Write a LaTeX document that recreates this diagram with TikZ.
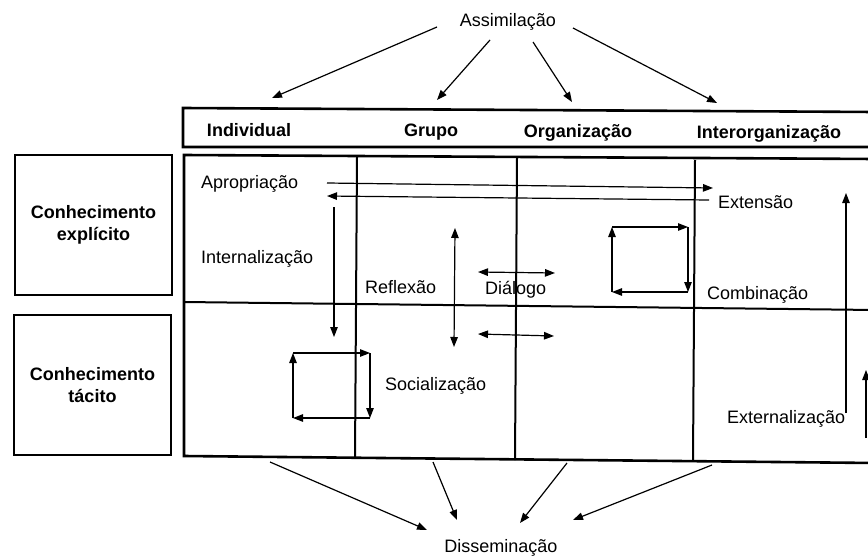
\documentclass[tikz,border=0pt]{standalone}
\usepackage{fontspec}
\setmainfont{Liberation Sans}
\usetikzlibrary{arrows.meta}
\begin{document}
\begin{tikzpicture}[x=1pt,y=-1pt,
  tip/.tip={Triangle[length=10pt,width=7.5pt]},
  arr/.style={line width=1.2pt,-tip},
  darr/.style={line width=1.2pt,tip-tip},
  frame/.style={line width=2.6pt,line cap=rect},
  inner/.style={line width=2pt},
  lbl/.style={font=\fontsize{18}{22}\selectfont, inner sep=0pt, anchor=base west},
  hdr/.style={font=\fontsize{18}{22}\selectfont\bfseries, inner sep=0pt, anchor=base},
  side/.style={draw, line width=2.6pt, font=\fontsize{18}{22}\selectfont\bfseries,
    align=center, inner sep=0pt, minimum width=157pt, minimum height=140pt}
]
\useasboundingbox (0,0) rectangle (868,557);

% header strip with the four levels
\draw[frame] (875,112) -- (183,108) -- (183,147) -- (875,147);
\node[hdr] (ind) at (249,136) {Individual};
\node[hdr] (gru) at (431,136) {Grupo};
\node[hdr] (org) at (578,137) {Organização};
\node[hdr] (inter) at (769,138) {Interorganização};

% main grid
\draw[frame] (875,159) -- (184,155) -- (184,456) -- (875,463);
\draw[inner] (184,302) -- (875,310);
\draw[inner] (357,157) -- (355,458);
\draw[inner] (517,158) -- (515,460);
\draw[inner] (695,160) -- (693,461);

% row headings
\node[side] (expl) at (93.5,225) {Conhecimento\\explícito};
\node[side] (tac) at (92.5,385) {Conhecimento\\tácito};

% flow labels
\node[lbl] (apr) at (201,188) {Apropriação};
\node[lbl] (ext) at (718,208) {Extensão};
\node[lbl] (intl) at (201,263) {Internalização};
\node[lbl] (refl) at (365,293) {Reflexão};
\node[lbl] (dial) at (485,294) {Diálogo};
\node[lbl] (comb) at (707,299) {Combinação};
\node[lbl] (soc) at (385,390) {Socialização};
\node[lbl] (extz) at (727,423) {Externalização};

% assimilation and dissemination
\node[font=\fontsize{18}{22}\selectfont, inner sep=0pt] (asm) at (508,22) {Assimilação};
\node[font=\fontsize{18}{22}\selectfont, inner sep=0pt] (dis) at (501,548) {Disseminação};

\coordinate (a1s) at (437,27);  \coordinate (a1e) at (272,98);
\coordinate (a2s) at (490,40);  \coordinate (a2e) at (437,100);
\coordinate (a3s) at (533,42);  \coordinate (a3e) at (572,102);
\coordinate (a4s) at (573,28);  \coordinate (a4e) at (717,103);
\draw[arr] (a1s) -- (a1e);
\draw[arr] (a2s) -- (a2e);
\draw[arr] (a3s) -- (a3e);
\draw[arr] (a4s) -- (a4e);

\coordinate (d1s) at (270,462); \coordinate (d1e) at (427,530);
\coordinate (d2s) at (433,462); \coordinate (d2e) at (457,520);
\coordinate (d3s) at (567,463); \coordinate (d3e) at (520,523);
\coordinate (d4s) at (712,465); \coordinate (d4e) at (573,520);
\draw[arr] (d1s) -- (d1e);
\draw[arr] (d2s) -- (d2e);
\draw[arr] (d3s) -- (d3e);
\draw[arr] (d4s) -- (d4e);

% appropriation / extension
\coordinate (p1) at (327,183); \coordinate (p2) at (713,188);
\coordinate (q1) at (709,200); \coordinate (q2) at (327,196);
\draw[arr] (p1) -- (p2);
\draw[arr] (q1) -- (q2);

% internalization
\coordinate (i1) at (334,207); \coordinate (i2) at (334,337);
\draw[arr] (i1) -- (i2);

% reflection and dialogue
\coordinate (r1) at (455,228); \coordinate (r2) at (454,347);
\draw[darr] (r1) -- (r2);
\coordinate (g1) at (478,272); \coordinate (g2) at (555,273);
\draw[darr] (g1) -- (g2);
\coordinate (h1) at (478,334); \coordinate (h2) at (554,336);
\draw[darr] (h1) -- (h2);

% combination cycle
\coordinate (c1) at (612,227); \coordinate (c2) at (688,227);
\coordinate (c3) at (688,292); \coordinate (c4) at (612,292);
\draw[arr] (c1) -- (c2);
\draw[arr] (c2) -- (c3);
\draw[arr] (c3) -- (c4);
\draw[arr] (c4) -- (c1);

% socialization cycle
\coordinate (s1) at (293,353); \coordinate (s2) at (370,353);
\coordinate (s3) at (370,418); \coordinate (s4) at (293,418);
\draw[arr] (s1) -- (s2);
\draw[arr] (s2) -- (s3);
\draw[arr] (s3) -- (s4);
\draw[arr] (s4) -- (s1);

% externalization
\coordinate (e1) at (846,413); \coordinate (e2) at (846,193);
\draw[arr] (e1) -- (e2);
\coordinate (f1) at (866,438); \coordinate (f2) at (866,370);
\draw[arr] (f1) -- (f2);
\end{tikzpicture}
\end{document}
